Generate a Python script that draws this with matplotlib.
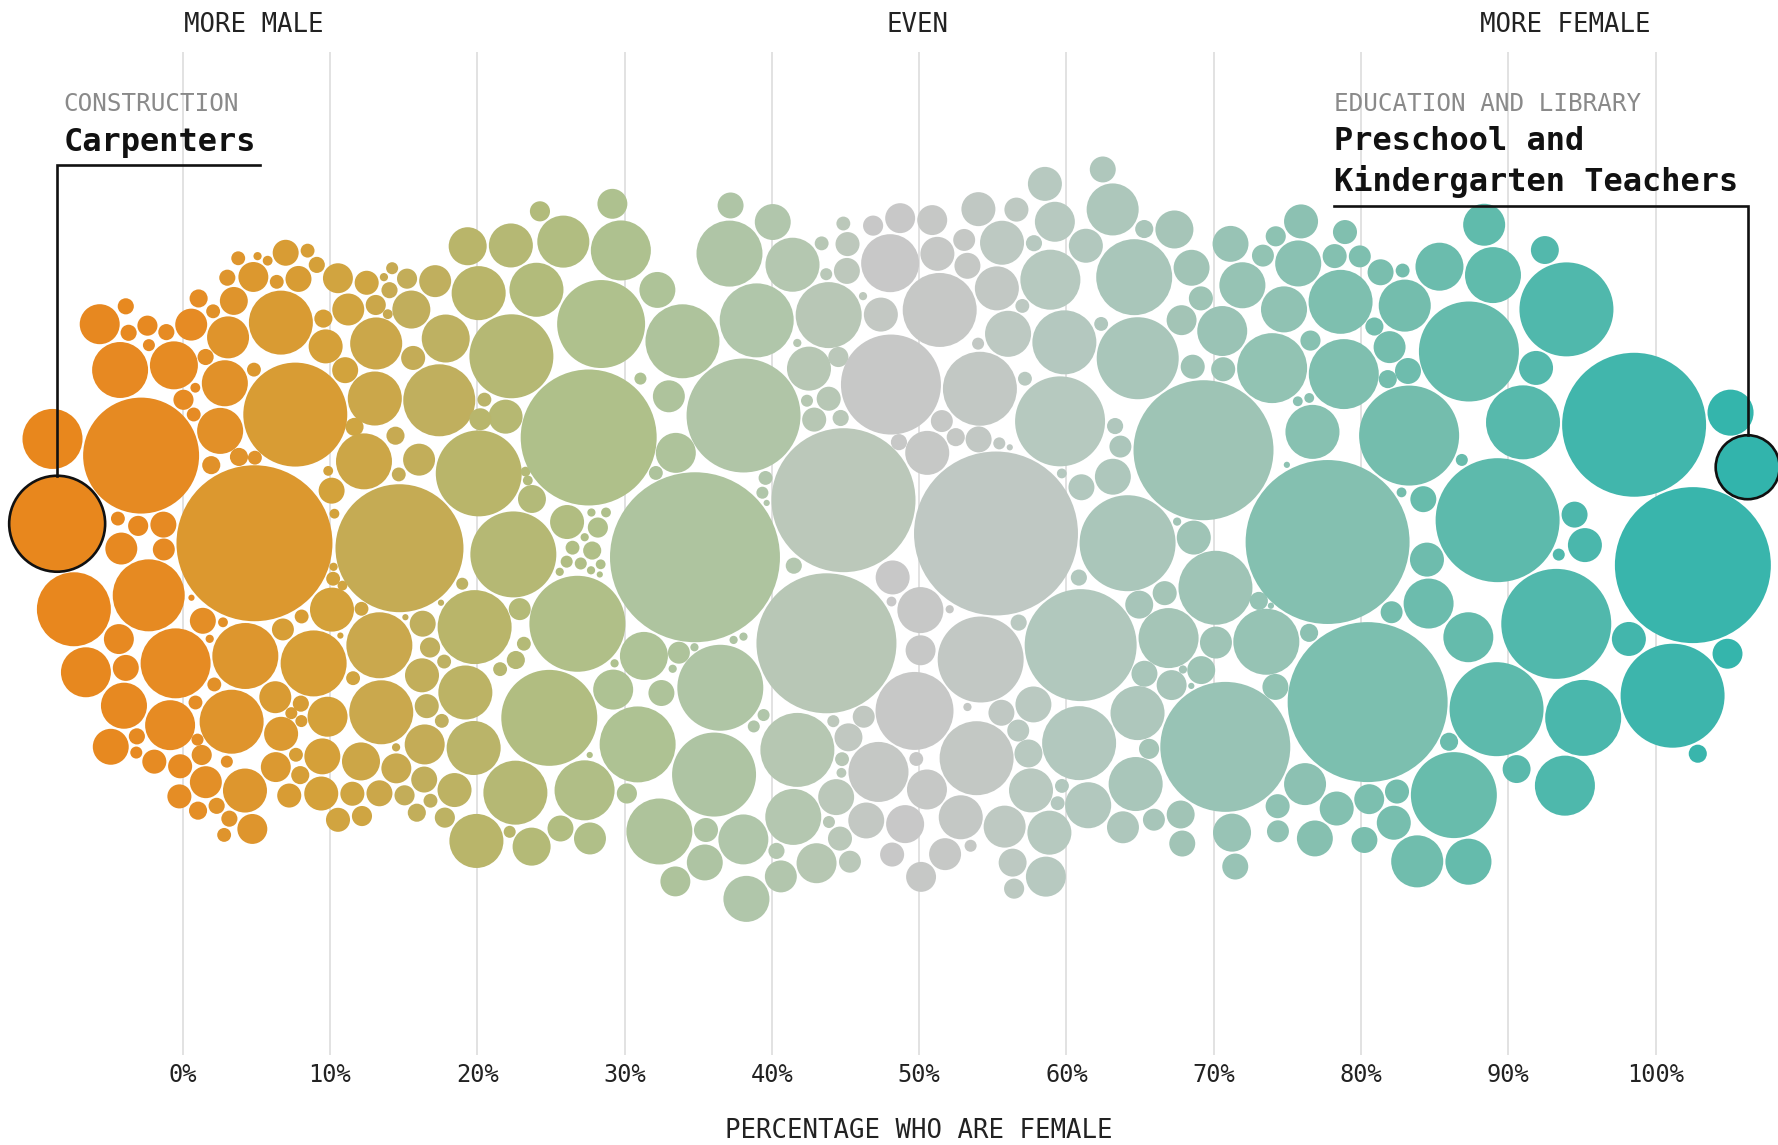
import numpy as np
import matplotlib
matplotlib.use("Agg")
import matplotlib.pyplot as plt
from matplotlib.patches import Circle
from matplotlib.collections import PatchCollection
from matplotlib.colors import LinearSegmentedColormap

# ---------------- data ----------------
# percentage of workers who are female (as placed on the axis)
share_female = [
    -8.1, -8.1, -5.7, -4.7, -4.8, -3.4, -3.7, -2.9, -1.9, -0.7,
    -0.5, 2.1, -3.1, -1.7, -1.9, -1.4, -2.3, -0.5, -0.4, 0.2,
    -0.3, 0.6, 0.7, 1.0, 1.7, 1.5, 1.4, 2.0, 2.3, 3.1,
    2.2, 1.9, 3.0, 2.7, 3.8, 3.8, 3.6, 3.0, 3.6, 3.9,
    4.9, 5.0, 5.3, 5.8, 5.4, 7.3, 4.2, 4.7, 2.4, 2.5,
    7.2, 7.5, 8.9, 9.5, 11.6, 10.8, 9.9, 6.1, 6.8, 7.4,
    8.1, 8.8, 7.3, 6.7, 8.0, 9.1, 9.7, 9.9, 10.2, 10.8,
    11.5, 11.6, 8.0, 7.8, 9.7, 10.5, 11.4, 11.6, 11.2, 10.3,
    12.9, 12.9, 13.9, 13.9, 12.9, 15.1, 12.4, 14.4, 15.3, 15.4,
    16.9, 16.1, 16.8, 17.0, 12.9, 13.6, 14.2, 14.4, 15.1, 15.6,
    16.0, 16.9, 17.1,
    -4.1, -0.7, -2.9, -1.4, -5.1, 4.8, -7.3, -2.0, 1.0, 1.9,
    0.7, 4.1, 6.1, 7.3, 9.3, 10.9, 16.3, 14.6, 13.2, 16.8,
    16.3, 11.2, 8.3, 3.7, -0.7, -4.0, -3.8, -0.7, -3.6, 2.7,
    6.8, 0.5, 4.4, 8.6, 10.0, 10.5, 13.5, 16.0, 12.2, 15.3,
    13.9, 17.1,
    17.8, 18.2, 17.6, 20.0, 20.7, 21.7, 23.5, 22.2, 19.0, 22.5,
    23.5, 24.5, 24.3, 20.5, 22.6, 24.0, 20.2, 19.7, 23.4, 25.6,
    27.1, 28.2, 27.9, 25.4, 26.5, 27.4, 27.4, 27.4, 25.7, 27.6,
    28.7, 29.2, 30.2, 30.4, 31.0, 27.5, 29.2, 31.7, 33.0, 33.5,
    33.8, 34.8, 37.3, 37.0, 39.0, 35.8, 38.9, 39.5, 37.5, 33.2,
    38.7, 35.9, 28.1, 33.1, 38.9, 40.6, 42.6, 44.0, 45.5, 46.5,
    45.0, 43.7, 42.1, 43.1, 44.6, 45.6, 46.8, 43.8, 45.0, 41.4,
    44.1, 43.1, 41.5, 44.0, 42.1, 43.0, 41.4, 44.8, 47.7, 43.6,
    47.3,
    17.7, 22.4, 27.2, 34.4, 41.4, 45.1, 20.2, 18.2, 25.5, 28.1,
    20.3, 23.5, 25.6, 29.5, 27.8, 33.7, 36.1, 39.1, 43.6, 46.7,
    40.2, 46.4, 45.4, 22.4, 28.8, 18.3, 19.7, 20.4, 24.4, 22.4,
    26.4, 27.6, 30.2, 32.8, 32.3, 36.6, 33.6, 33.6, 35.9, 37.2,
    39.1, 42.4, 42.3, 45.0, 45.5, 40.1,
    48.5, 48.2, 49.7, 50.2, 50.1, 48.3, 51.6, 51.8, 53.3, 53.0,
    54.1, 54.6, 54.1, 55.7, 56.2, 54.9, 53.1, 57.0, 58.4, 59.9,
    58.5, 58.1, 56.6, 54.3, 59.6, 60.7, 60.9, 60.9, 62.1, 63.2,
    64.6, 65.8, 66.8, 67.2, 67.9, 69.4, 58.5, 60.9, 62.1, 64.8,
    65.6, 59.0, 56.2, 55.4, 51.9, 63.1, 60.9, 57.3, 58.6, 62.6,
    64.0, 54.3, 50.7, 48.9, 51.2, 55.5, 57.1, 57.1, 61.4, 69.4,
    66.4, 69.2, 71.4, 67.9, 68.3, 70.2, 72.7, 74.3, 73.3, 75.7,
    74.3, 73.7, 75.9, 76.3, 76.7, 76.7, 74.5, 75.0, 75.0, 75.7,
    77.7,
    55.2, 51.2, 64.4, 68.6, 71.3, 71.2, 77.2, 65.0, 57.3, 60.9,
    66.6, 67.6, 54.0, 48.4, 50.1, 59.1, 65.0, 69.0, 69.3, 72.5,
    50.1, 54.5, 68.1, 63.3, 65.9, 71.0, 73.5, 75.8, 73.6, 48.2,
    50.7, 53.0, 53.3, 56.1, 59.8, 63.2, 66.6, 69.7, 72.3, 75.7,
    48.2, 50.7, 53.1, 56.2, 64.7, 68.9, 71.2, 58.9, 54.9, 50.6,
    77.6, 78.7, 80.6, 82.4, 79.5, 81.6, 82.6, 84.2, 86.0, 79.0,
    82.2, 84.7, 82.2, 86.0, 88.6, 92.1, 94.3, 92.6, 82.6, 89.4,
    95.5, 100.5, 78.2, 80.3, 82.2, 86.9, 93.7, 84.1,
    86.0, 93.0, 102.5, 82.4, 80.1, 89.3, 93.3, 98.4, 102.8, 104.7,
    105.1, 87.1, 85.2, 87.1, 91.3, 95.2, 97.7, 79.5, 83.5, 90.5,
    93.9, 88.4, 85.2, 82.2, 82.6, 80.8,
    106.2,
]

# number of workers (thousands)
workers_k = [
    956, 374, 259, 134, 20, 42, 27, 70, 1396, 508,
    42, 220, 42, 15, 27, 50, 15, 27, 60, 20,
    10, 4, 15, 34, 27, 70, 34, 42, 15, 27,
    10, 7, 20, 20, 20, 81, 183, 34, 27, 27,
    20, 93, 10, 120, 7, 1122, 20, 452, 20, 34,
    20, 60, 120, 201, 20, 60, 10, 20, 15, 15,
    20, 34, 70, 106, 20, 27, 166, 20, 10, 10,
    60, 34, 50, 27, 120, 4, 42, 60, 20, 7,
    303, 70, 7, 7, 281, 20, 325, 15, 60, 42,
    70, 120, 20, 42, 42, 10, 34, 27, 4, 42,
    106, 20, 538,
    27, 60, 325, 70, 166, 2525, 568, 538, 20, 106,
    60, 93, 93, 70, 134, 93, 70, 1700, 452, 60,
    150, 106, 452, 425, 259, 93, 220, 239, 106, 220,
    425, 106, 201, 34, 70, 70, 425, 34, 150, 166,
    93, 106,
    20, 15, 4, 150, 15, 20, 150, 120, 303, 201,
    20, 42, 10, 50, 425, 81, 767, 303, 10, 70,
    15, 10, 4, 7, 20, 7, 4, 7, 120, 34,
    10, 7, 42, 599, 15, 956, 93, 239, 452, 20,
    7, 7, 452, 7, 15, 7, 15, 4, 1348, 166,
    15, 732, 1919, 50, 220, 106, 60, 15, 15, 50,
    20, 15, 7, 20, 50, 7, 134, 20, 42, 325,
    27, 60, 27, 10, 15, 201, 27, 60, 1038, 2034,
    374,
    239, 732, 374, 2998, 303, 2151, 303, 42, 956, 42,
    568, 50, 281, 374, 7, 568, 60, 568, 452, 120,
    134, 81, 70, 767, 803, 120, 20, 303, 303, 34,
    15, 106, 166, 70, 134, 767, 106, 93, 134, 70,
    259, 568, 166, 134, 60, 20,
    60, 42, 27, 20, 220, 10, 50, 106, 7, 15,
    15, 15, 70, 60, 81, 70, 34, 27, 27, 20,
    166, 81, 42, 767, 10, 20, 27, 220, 20, 134,
    34, 93, 42, 7, 70, 4, 166, 120, 27, 599,
    50, 374, 20, 4, 7, 303, 70, 20, 120, 70,
    50, 568, 120, 150, 568, 183, 50, 134, 1301, 2034,
    150, 568, 70, 7, 81, 60, 34, 50, 4, 34,
    220, 508, 10, 10, 42, 303, 60, 4, 42, 120,
    2790,
    2790, 201, 956, 60, 134, 1753, 134, 303, 201, 568,
    60, 93, 568, 93, 93, 840, 698, 120, 60, 452,
    631, 201, 134, 281, 81, 259, 50, 220, 70, 349,
    93, 50, 201, 220, 425, 106, 374, 81, 220, 183,
    120, 166, 70, 201, 70, 106, 150, 201, 120, 93,
    60, 60, 70, 60, 50, 120, 10, 120, 15, 508,
    34, 259, 50, 70, 325, 120, 70, 81, 1038, 917,
    599, 1122, 120, 93, 106, 1038, 917, 70,
    767, 1255, 2525, 281, 2656, 1595, 15, 2151, 34, 93,
    220, 220, 34, 259, 568, 120, 120, 425, 281, 81,
    374, 183, 239, 20, 34, 70,
    425,
]

# the two annotated occupations: (index, group, name lines)
annotations = [
    (0, "CONSTRUCTION", ["Carpenters"]),
    (len(share_female) - 1, "EDUCATION AND LIBRARY", ["Preschool and", "Kindergarten Teachers"]),
]

tick_values = [0, 10, 20, 30, 40, 50, 60, 70, 80, 90, 100]
tick_labels = ["0%", "10%", "20%", "30%", "40%", "50%", "60%", "70%", "80%", "90%", "100%"]
side_labels = ["MORE MALE", "EVEN", "MORE FEMALE"]
axis_title = "PERCENTAGE WHO ARE FEMALE"

# colour ramp by share female
ramp_stops = [-10, 0, 5, 10, 15, 20, 25, 30, 35, 40, 45, 48, 53, 58, 63, 68, 73, 78, 83, 88, 93, 98, 108]
ramp_colors = ["#E8861C", "#E68B24", "#DC982F", "#D3A23B", "#C4AC57", "#B9B56A", "#B1BC7E",
               "#AEC292", "#AEC4A1", "#B1C6AC", "#BBC8BA", "#C8C8C8", "#C5C8C5", "#B8C9C0",
               "#AEC7BC", "#A2C4B6", "#94C3B4", "#84C0B0", "#72BDAD", "#62BBAC", "#52B8AC",
               "#42B6AC", "#2FB4AC"]

assert len(share_female) == len(workers_k)

# ---------------- figure / scales ----------------
W, H = 1778, 1145
X0, PXU = 182.6, 14.73          # pixel of 0 %, pixels per percent
fig = plt.figure(figsize=(W / 100, H / 100), dpi=100)
ax = fig.add_axes([0, 0, 1, 1])
ax.set_xlim(-X0 / PXU, (W - X0) / PXU)
ax.set_ylim(H / PXU, 0)
ax.axis("off")

mono = "DejaVu Sans Mono"
ink = "#222222"

def fx(px):
    return px / W

def fy(py):
    return 1 - py / H

# grid lines
for v in tick_values:
    ax.plot([v, v], [52 / PXU, 1055 / PXU], color="#DADADA", lw=1.1, zorder=0,
            solid_capstyle="butt")

# ---------------- bubble layout (beeswarm packing + force relaxation) ----------------
x0 = np.array(share_female, float)
w = np.array(workers_k, float)
K = 1.552 / PXU
r = K * np.sqrt(w)
pad = 2.2 / PXU
cy = 542 / PXU
n = len(x0)
x = x0.copy()
y = np.full(n, np.nan)
done = np.zeros(n, bool)
for i in np.argsort(-r, kind="stable"):
    m = done & (np.abs(x - x[i]) < r + r[i] + pad)
    nx, ny, nr = x[m], y[m], r[m]
    if len(nx) == 0:
        y[i] = cy
    else:
        d = nr + r[i] + pad
        h = np.sqrt(np.maximum(d ** 2 - (nx - x[i]) ** 2, 0))
        c = np.concatenate([[cy], ny - h, ny + h])
        c = c[np.lexsort((c, np.abs(c - cy)))]
        dist2 = (nx[None, :] - x[i]) ** 2 + (ny[None, :] - c[:, None]) ** 2
        ok = np.all(dist2 >= d[None, :] ** 2 - 1e-7, axis=1)
        y[i] = c[np.argmax(ok)] if ok.any() else c[-1]
    done[i] = True

# d3-like relaxation: pull x to value, weak pull to centre line, collide
R2 = r ** 2
eye = np.eye(n, dtype=bool)
def collide(x, y, strength=0.7):
    dx = x[None, :] - x[:, None]
    dy = y[None, :] - y[:, None]
    dist = np.sqrt(dx ** 2 + dy ** 2)
    need = r[None, :] + r[:, None] + pad
    ov = np.where((dist < need) & ~eye, need - dist, 0.0)
    dist = np.where(dist == 0, 1e-6, dist)
    wgt = R2[None, :] / (R2[None, :] + R2[:, None])     # smaller circle moves more
    mx = -(dx / dist) * ov * wgt * strength
    my = -(dy / dist) * ov * wgt * strength
    return x + mx.sum(1), y + my.sum(1)

steps = 220
for it in range(steps):
    a = 1 - it / steps
    y = y + (cy - y) * 0.009 * a
    x = x + (x0 - x) * 0.14
    for _ in range(2):
        x, y = collide(x, y, 0.6)
for _ in range(60):
    x, y = collide(x, y, 0.8)

stops = (np.array(ramp_stops) - ramp_stops[0]) / (ramp_stops[-1] - ramp_stops[0])
cmap = LinearSegmentedColormap.from_list("gender", list(zip(stops, ramp_colors)))
cols = cmap((x0 - ramp_stops[0]) / (ramp_stops[-1] - ramp_stops[0]))

patches = [Circle((x[i], y[i]), r[i]) for i in range(n)]
pc = PatchCollection(patches, facecolor=cols, edgecolor="none", zorder=2)
ax.add_collection(pc)

# ---------------- annotations ----------------
for k, (idx, group, lines) in enumerate(annotations):
    ax.add_patch(Circle((x[idx], y[idx]), r[idx], facecolor=cols[idx], edgecolor="#111111",
                        lw=1.9, zorder=4))
    top = y[idx] - r[idx]
    if k == 0:
        tx, gy, ly0, lh, line_y, line_end = 63.5, 104, 143, 40, 165.5, 260
        ax.plot([x[idx], x[idx], (line_end - X0) / PXU],
                [top, line_y / PXU, line_y / PXU], color="#111111", lw=1.9, zorder=5,
                solid_joinstyle="miter")
    else:
        tx, gy, ly0, lh, line_y = 1333.6, 104, 141, 40.5, 206
        ax.plot([(tx - X0) / PXU, x[idx], x[idx]],
                [line_y / PXU, line_y / PXU, top], color="#111111", lw=1.9, zorder=5,
                solid_joinstyle="miter")
    fig.text(fx(tx), fy(gy), group, family=mono, fontsize=17.5, color="#8A8A8A",
             ha="left", va="center")
    for j, ln in enumerate(lines):
        fig.text(fx(tx), fy(ly0 + j * lh), ln, family=mono, fontsize=23,
                 fontweight="bold", color="#111111", ha="left", va="center")

# top side labels
for lab, px in zip(side_labels, [253.5, 918.0, 1565.0]):
    fig.text(fx(px), fy(25), lab, family=mono, fontsize=18.5, color=ink,
             ha="center", va="center")

# tick labels
for v, lab in zip(tick_values, tick_labels):
    fig.text(fx(X0 + v * PXU), fy(1075), lab, family=mono, fontsize=17, color=ink,
             ha="center", va="center")

fig.text(fx(X0 + 50 * PXU), fy(1131), axis_title, family=mono, fontsize=18.5,
         color=ink, ha="center", va="center")

fig.savefig("out.png", dpi=100, facecolor="white")
